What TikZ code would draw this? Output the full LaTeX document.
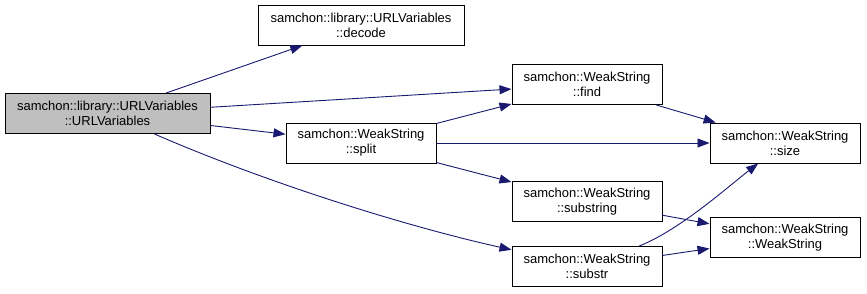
\documentclass[tikz,border=0pt]{standalone}
\usepackage{fontspec}
\setmainfont{Liberation Sans}
\usetikzlibrary{arrows.meta}
\definecolor{edge}{HTML}{191970}
\definecolor{hilite}{HTML}{BFBFBF}

\begin{document}
\begin{tikzpicture}[x=1pt,y=1pt,
  fn/.style={draw=black,line width=1pt,fill=white,align=center,inner sep=0pt,
    minimum width=150,minimum height=40,font=\fontsize{13}{15}\selectfont},
  call/.style={-{Triangle[length=12pt,width=9pt]},line width=.9pt,draw=edge}]
\path[use as bounding box] (0,0) rectangle (867,-293);
% Function boxes, one column per call depth.
\node[fn,fill=hilite,minimum width=205] (ctor) at (107.5,-113.5) {samchon::library::URLVariables\\::URLVariables};
\node[fn,minimum width=206] (decode) at (361,-25) {samchon::library::URLVariables\\::decode};
\node[fn] (split) at (361,-143) {samchon::WeakString\\::split};
\node[fn] (find) at (587,-84.5) {samchon::WeakString\\::find};
\node[fn] (substring) at (587,-201.5) {samchon::WeakString\\::substring};
\node[fn] (substr) at (587,-266.5) {samchon::WeakString\\::substr};
\node[fn] (size) at (785,-143) {samchon::WeakString\\::size};
\node[fn] (wstr) at (785,-237.5) {samchon::WeakString\\::WeakString};

% Calls out of the constructor.
\draw[call] (ctor) -- (decode);
\draw[call] (ctor) -- (find);
\draw[call] (ctor) -- (split);
\draw[call] (ctor) .. controls (260,-180) and (400,-225) .. (substr);
% Calls out of split.
\draw[call] (split) -- (find);
\draw[call] (split) -- (size);
\draw[call] (split) -- (substring);
% Remaining leaf calls.
\draw[call] (find) -- (size);
\draw[call] (substring) -- (wstr);
\draw[call] (substr) -- (wstr);
\draw[call] (substr) .. controls (680,-230) and (730,-185) .. (size);
\end{tikzpicture}
\end{document}
